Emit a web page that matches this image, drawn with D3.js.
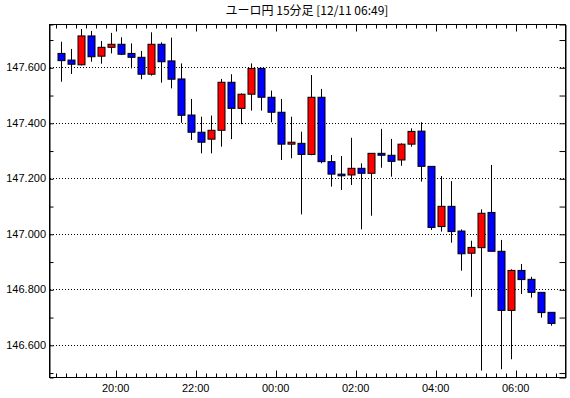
<!DOCTYPE html>
<html>
<head>
<meta charset="utf-8">
<script src="https://cdn.jsdelivr.net/npm/d3@7"></script>
<style>
  html, body { margin: 0; padding: 0; background: #fff; }
  svg text { font-family: "Liberation Sans", "Noto Sans CJK JP", sans-serif; }
</style>
</head>
<body>
<div id="chrt"></div>
<script>
// 15-minute bars, 12/10 18:30 .. 12/11 06:45 (50 bars)
const barStart = new Date(2024, 11, 10, 18, 30);
const barCount = 50;
const openVals = [147.650, 147.626, 147.609, 147.713, 147.640, 147.672, 147.683, 147.650, 147.636, 147.575,
  147.683, 147.623, 147.558, 147.428, 147.366, 147.341, 147.373, 147.546, 147.452, 147.503,
  147.596, 147.492, 147.438, 147.323, 147.326, 147.286, 147.492, 147.260, 147.215, 147.212,
  147.236, 147.218, 147.290, 147.283, 147.266, 147.323, 147.370, 147.243, 147.026, 147.099,
  147.010, 146.930, 146.950, 147.077, 146.937, 146.724, 146.868, 146.836, 146.789, 146.717];
const highVals = [147.692, 147.666, 147.738, 147.731, 147.695, 147.724, 147.708, 147.686, 147.659, 147.726,
  147.690, 147.707, 147.614, 147.486, 147.422, 147.426, 147.558, 147.575, 147.506, 147.614,
  147.598, 147.516, 147.486, 147.422, 147.368, 147.572, 147.522, 147.284, 147.280, 147.346,
  147.254, 147.290, 147.378, 147.342, 147.326, 147.380, 147.402, 147.243, 147.208, 147.190,
  147.016, 146.975, 147.088, 147.248, 146.978, 146.872, 146.891, 146.845, 146.789, 146.717];
const lowVals = [147.548, 147.576, 147.607, 147.620, 147.613, 147.650, 147.644, 147.596, 147.557, 147.570,
  147.545, 147.524, 147.400, 147.338, 147.290, 147.290, 147.314, 147.341, 147.395, 147.444,
  147.444, 147.402, 147.266, 147.272, 147.070, 147.283, 147.254, 147.170, 147.158, 147.176,
  147.016, 147.065, 147.238, 147.206, 147.245, 147.314, 147.188, 147.014, 147.008, 146.968,
  146.867, 146.773, 146.507, 146.937, 146.512, 146.548, 146.783, 146.770, 146.698, 146.669];
const closeVals = [147.624, 147.611, 147.713, 147.638, 147.672, 147.683, 147.647, 147.636, 147.575, 147.683,
  147.620, 147.557, 147.427, 147.366, 147.330, 147.373, 147.546, 147.452, 147.503, 147.596,
  147.492, 147.438, 147.323, 147.330, 147.286, 147.492, 147.260, 147.215, 147.209, 147.236,
  147.218, 147.290, 147.283, 147.261, 147.323, 147.369, 147.243, 147.023, 147.099, 147.008,
  146.928, 146.951, 147.074, 146.937, 146.724, 146.868, 146.835, 146.789, 146.716, 146.677];
const yTickVals = [146.6, 146.8, 147.0, 147.2, 147.4, 147.6];
const titleText = 'ユーロ円 15分足 [12/11 06:49]';

const W = 570, H = 398;
const plot = {left: 49, right: 565, top: 24, bottom: 377};

const bars = d3.range(barCount).map(i => ({
  t: d3.timeMinute.offset(barStart, i * 15),
  o: openVals[i], h: highVals[i], l: lowVals[i], c: closeVals[i]
}));

const scaleX = d3.scaleTime()
    .domain([new Date(2024, 11, 10, 18, 20), new Date(2024, 11, 11, 7, 14)])
    .range([plot.left, plot.right]);
const scaleY = d3.scaleLinear().domain([146.484, 147.756]).range([plot.bottom, plot.top]);

const svg = d3.select('#chrt').append('svg')
    .attr('width', W)
    .attr('height', H);

svg.append('rect')
    .attr('x', plot.left + 0.5).attr('y', plot.top + 0.5)
    .attr('width', plot.right - plot.left).attr('height', plot.bottom - plot.top)
    .attr('fill', '#fff').attr('stroke', '#000').attr('stroke-width', 1);

// title
svg.append('text')
    .attr('x', (plot.left + plot.right) / 2)
    .attr('y', 15)
    .attr('text-anchor', 'middle')
    .style('font-family', '"Noto Sans CJK JP", sans-serif')
    .style('font-size', '12px')
    .text(titleText);

// dotted gridlines
svg.selectAll('.grid')
    .data(yTickVals)
    .enter().append('line')
    .attr('x1', plot.left + 1).attr('x2', plot.right)
    .attr('y1', d => Math.round(scaleY(d)) + 0.5)
    .attr('y2', d => Math.round(scaleY(d)) + 0.5)
    .attr('stroke', '#000').attr('stroke-width', 1)
    .attr('stroke-dasharray', '1,2');

// y axis ticks (inside, both sides) every 0.1
const yMinor = d3.range(146.5, 147.75, 0.1);
const yLeft = d3.axisRight(scaleY).tickValues(yMinor).tickSize(4).tickFormat('');
const yRight = d3.axisLeft(scaleY).tickValues(yMinor).tickSize(6).tickFormat('');
svg.append('g').attr('transform', 'translate(' + (plot.left + 0.5) + ',0.5)').call(yLeft);
svg.append('g').attr('transform', 'translate(' + (plot.right + 0.5) + ',0.5)').call(yRight);

// y labels
svg.selectAll('.ylab')
    .data(yTickVals)
    .enter().append('text')
    .attr('x', plot.left - 3)
    .attr('y', d => scaleY(d) + 4)
    .attr('text-anchor', 'end')
    .style('font-size', '11px')
    .text(d => d.toFixed(3));

// x ticks every 15 minutes, longer on even hours
const xTicks = d3.timeMinute.every(15).range(scaleX.domain()[0], scaleX.domain()[1]);
const isMajor = d => d.getMinutes() === 0 && d.getHours() % 2 === 0;
[plot.bottom, plot.top].forEach((yb, k) => {
  svg.append('g').selectAll('line')
      .data(xTicks)
      .enter().append('line')
      .attr('x1', d => Math.round(scaleX(d)) + 0.5)
      .attr('x2', d => Math.round(scaleX(d)) + 0.5)
      .attr('y1', yb + 0.5)
      .attr('y2', d => yb + 0.5 + (k === 0 ? -1 : 1) * (isMajor(d) ? 7 : 4))
      .attr('stroke', '#000');
});
svg.selectAll('.xlab')
    .data(xTicks.filter(isMajor))
    .enter().append('text')
    .attr('x', d => scaleX(d))
    .attr('y', plot.bottom + 15)
    .attr('text-anchor', 'middle')
    .style('font-size', '11px')
    .text(d3.timeFormat('%H:%M'));

// candles
const cx = d => Math.round(scaleX(d3.timeSecond.offset(d.t, 450))) + 0.5;
const candle = svg.append('g').selectAll('g').data(bars).enter().append('g');
candle.append('line')
    .attr('x1', cx).attr('x2', cx)
    .attr('y1', d => scaleY(d.h)).attr('y2', d => scaleY(d.l))
    .attr('stroke', '#000').attr('stroke-width', 1);
candle.append('rect')
    .attr('x', d => cx(d) - 3.5)
    .attr('y', d => scaleY(Math.max(d.o, d.c)))
    .attr('width', 7)
    .attr('height', d => Math.max(1, scaleY(Math.min(d.o, d.c)) - scaleY(Math.max(d.o, d.c))))
    .attr('fill', d => d.c >= d.o ? '#ff0000' : '#0000ff')
    .attr('stroke', '#000').attr('stroke-width', 1);
</script>
</body>
</html>
